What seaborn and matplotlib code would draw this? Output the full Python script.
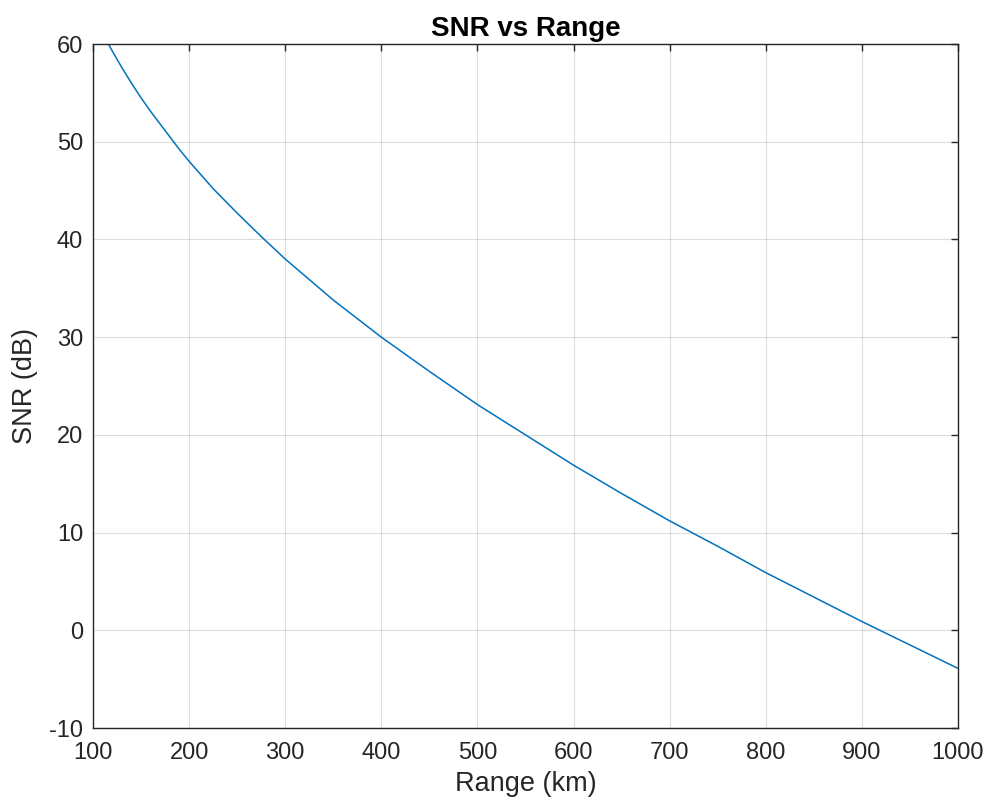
import numpy as np
import pandas as pd
import matplotlib
matplotlib.use("Agg")
import matplotlib.pyplot as plt
import seaborn as sns

# --- Values ---
range_km = [100, 110, 120, 130, 140, 150, 160, 170, 180, 190, 200, 225, 250, 275, 300,
            350, 400, 450, 500, 550, 600, 650, 700, 750, 800, 850, 900, 950, 1000]
snr_db = [63.1, 61.1, 59.3, 57.6, 56.0, 54.5, 53.1, 51.8, 50.5, 49.2, 48.0, 45.2, 42.7,
          40.3, 38.0, 33.8, 30.0, 26.5, 23.1, 20.0, 16.9, 14.0, 11.2, 8.6, 5.9, 3.4,
          0.9, -1.5, -3.9]
x_ticks = [100, 200, 300, 400, 500, 600, 700, 800, 900, 1000]
y_ticks = [-10, 0, 10, 20, 30, 40, 50, 60]

df = pd.DataFrame({"range": range_km, "snr": snr_db})

sns.set_style("white")
plt.rcParams['font.family'] = ['Liberation Sans', 'DejaVu Sans']
plt.rcParams['axes.unicode_minus'] = False

fig = plt.figure(figsize=(9.91, 8.09), dpi=100)
ax = fig.add_axes([0.0938, 0.1001, 0.8729, 0.8455])

sns.lineplot(data=df, x="range", y="snr", ax=ax, color="#0072BD", linewidth=1.1)

ax.set_xlim(100, 1000)
ax.set_ylim(-10, 60)
ax.set_xticks(x_ticks)
ax.set_yticks(y_ticks)
ax.grid(True, color="#262626", alpha=0.15, linewidth=0.8)

for s in ax.spines.values():
    s.set_color("#262626")
    s.set_linewidth(1.0)
    s.set_visible(True)

ax.tick_params(direction="in", length=5, width=1.0, colors="#262626",
               labelsize=17, top=True, right=True)
ax.tick_params(axis="x", pad=10)
ax.tick_params(axis="y", pad=7)

ax.set_title("SNR vs Range", fontsize=20, fontweight="bold", color="black", pad=6)
ax.set_xlabel("Range (km)", fontsize=19.5, color="#262626", labelpad=5)
ax.set_ylabel("SNR (dB)", fontsize=19.5, color="#262626", labelpad=8)

fig.savefig("out.png", dpi=100)
